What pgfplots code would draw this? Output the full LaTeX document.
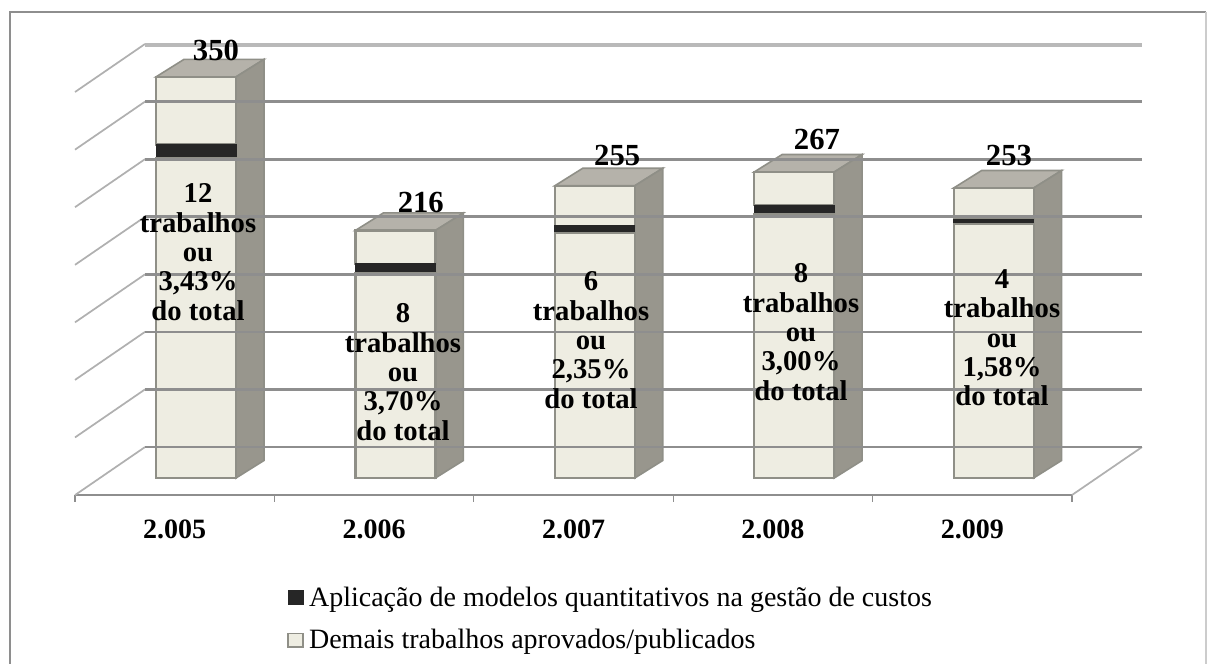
\documentclass[border=0pt]{standalone}
\usepackage{fontspec}
\setmainfont{Liberation Serif}
\usepackage{pgfplots}
\usepackage{pgfplotstable}
\pgfplotsset{compat=1.18}
\definecolor{lightbar}{HTML}{EEEDE2}
\definecolor{edgebar}{HTML}{8F8F87}
\definecolor{darkbar}{HTML}{262626}
\definecolor{sideface}{HTML}{98968D}
\definecolor{topface}{HTML}{B5B2AA}
\definecolor{gridc}{HTML}{8E8E8E}
\definecolor{diagc}{HTML}{B0B0B0}
\pgfplotstableread{
x lower dark upper
0 279 12 59
1 179 8 29
2 214 6 35
3 230 8 29
4 222 4 27
}\bars
\begin{document}
\begin{tikzpicture}
\useasboundingbox (-56.25pt,-126.75pt) rectangle (849pt,371.25pt);
\draw[gridc,line width=1.3pt] (-48.75pt,-126.75pt) -- (-48.75pt,362.25pt) -- (848.25pt,362.25pt);
\draw[gray!40,line width=1pt] (848.25pt,362.25pt) -- (848.25pt,-126.75pt);
\begin{axis}[
  scale only axis, width=747.75pt, height=338.25pt,
  xmin=-0.5, xmax=4.5, ymin=-14.83, ymax=378.7,
  clip=false,
  ybar stacked, bar width=60pt, bar shift=16pt,
  axis x line=bottom, axis y line=none,
  x axis line style={-,draw=gridc,line width=2pt},
  xtick={0,1,2,3,4},
  xticklabels={2.005,2.006,2.007,2.008,2.009},
  minor xtick={-0.5,0.5,1.5,2.5,3.5,4.5},
  major tick length=0pt, minor tick length=5pt,
  tick align=outside,
  every minor tick/.style={draw=gridc,line width=1pt},
  xticklabel style={font=\fontsize{21}{24}\selectfont\bfseries,yshift=-15pt},
  legend style={at={(0.2128,-0.197)},anchor=north west,draw=none,fill=none,
    font=\fontsize{21}{22}\selectfont,row sep=12pt,inner sep=0pt,
    cells={anchor=west},column sep=1.8pt},
  legend image code/.code={\draw[#1] (0pt,-5pt) rectangle (11.25pt,5pt);},
  after end axis/.append code={
    \node[font=\fontsize{23}{24}\selectfont\bfseries] at (axis cs:0.207,373.5) {350};
    \node[font=\fontsize{23}{24}\selectfont\bfseries] at (axis cs:1.234,240.8) {216};
    \node[font=\fontsize{23}{24}\selectfont\bfseries] at (axis cs:2.219,281.8) {255};
    \node[font=\fontsize{23}{24}\selectfont\bfseries] at (axis cs:3.221,295) {267};
    \node[font=\fontsize{23}{24}\selectfont\bfseries] at (axis cs:4.184,281.8) {253};
    \node[align=center,inner sep=0pt,font=\fontsize{21.5}{22}\selectfont\bfseries] at (axis cs:0.117,197.2) {12\\trabalhos\\ou\\3,43\%\\do total};
    \node[align=center,inner sep=0pt,font=\fontsize{21.5}{22}\selectfont\bfseries] at (axis cs:1.145,92.5) {8\\trabalhos\\ou\\3,70\%\\do total};
    \node[align=center,inner sep=0pt,font=\fontsize{21.5}{22}\selectfont\bfseries] at (axis cs:2.088,120.4) {6\\trabalhos\\ou\\2,35\%\\do total};
    \node[align=center,inner sep=0pt,font=\fontsize{21.5}{22}\selectfont\bfseries] at (axis cs:3.141,127.4) {8\\trabalhos\\ou\\3,00\%\\do total};
    \node[align=center,inner sep=0pt,font=\fontsize{21.5}{22}\selectfont\bfseries] at (axis cs:4.149,122.2) {4\\trabalhos\\ou\\1,58\%\\do total};
  },
]
% back wall gridlines
\addplot[forget plot,sharp plot,stack plots=false,draw=gridc,line width=2pt] coordinates {(-0.149,27.0) (4.851,27.0)};
\addplot[forget plot,sharp plot,stack plots=false,draw=gridc,line width=2pt] coordinates {(-0.149,77.3) (4.851,77.3)};
\addplot[forget plot,sharp plot,stack plots=false,draw=gridc,line width=2pt] coordinates {(-0.149,127.5) (4.851,127.5)};
\addplot[forget plot,sharp plot,stack plots=false,draw=gridc,line width=2pt] coordinates {(-0.149,177.7) (4.851,177.7)};
\addplot[forget plot,sharp plot,stack plots=false,draw=gridc,line width=2pt] coordinates {(-0.149,227.9) (4.851,227.9)};
\addplot[forget plot,sharp plot,stack plots=false,draw=gridc,line width=2pt] coordinates {(-0.149,278.2) (4.851,278.2)};
\addplot[forget plot,sharp plot,stack plots=false,draw=gridc,line width=2pt] coordinates {(-0.149,328.4) (4.851,328.4)};
\addplot[forget plot,sharp plot,stack plots=false,draw=gray!55,line width=3pt] coordinates {(-0.149,378.0) (4.851,378.0)};
% left wall and floor diagonals
\addplot[forget plot,sharp plot,stack plots=false,draw=diagc,line width=1.3pt] coordinates {(-0.5,-14.9) (-0.149,27.0)};
\addplot[forget plot,sharp plot,stack plots=false,draw=diagc,line width=1.3pt] coordinates {(-0.5,35.4) (-0.149,77.3)};
\addplot[forget plot,sharp plot,stack plots=false,draw=diagc,line width=1.3pt] coordinates {(-0.5,85.6) (-0.149,127.5)};
\addplot[forget plot,sharp plot,stack plots=false,draw=diagc,line width=1.3pt] coordinates {(-0.5,135.8) (-0.149,177.7)};
\addplot[forget plot,sharp plot,stack plots=false,draw=diagc,line width=1.3pt] coordinates {(-0.5,186.0) (-0.149,227.9)};
\addplot[forget plot,sharp plot,stack plots=false,draw=diagc,line width=1.3pt] coordinates {(-0.5,236.3) (-0.149,278.2)};
\addplot[forget plot,sharp plot,stack plots=false,draw=diagc,line width=1.3pt] coordinates {(-0.5,286.5) (-0.149,328.4)};
\addplot[forget plot,sharp plot,stack plots=false,draw=diagc,line width=1.3pt] coordinates {(-0.5,336.8) (-0.149,378.7)};
\addplot[forget plot,sharp plot,stack plots=false,draw=diagc,line width=1.3pt] coordinates {(4.5,-14.83) (4.851,27.0)};
% stacked front faces
\addplot[forget plot,fill=lightbar,draw=edgebar,line width=1.6pt] table[x=x,y=lower] {\bars};
\addplot[forget plot,fill=darkbar,draw=darkbar,line width=0.6pt] table[x=x,y=dark] {\bars};
\addplot[forget plot,fill=lightbar,draw=edgebar,line width=1.6pt] table[x=x,y=upper] {\bars};
% side faces
\addplot[forget plot,sharp plot,stack plots=false,fill=sideface,draw=edgebar,line width=1.2pt] coordinates {(0.3074,0) (0.4478,15.3) (0.4478,365.3) (0.3074,350)} --cycle;
\addplot[forget plot,sharp plot,stack plots=false,fill=sideface,draw=edgebar,line width=1.2pt] coordinates {(1.3074,0) (1.4478,15.3) (1.4478,231.3) (1.3074,216)} --cycle;
\addplot[forget plot,sharp plot,stack plots=false,fill=sideface,draw=edgebar,line width=1.2pt] coordinates {(2.3074,0) (2.4478,15.3) (2.4478,270.3) (2.3074,255)} --cycle;
\addplot[forget plot,sharp plot,stack plots=false,fill=sideface,draw=edgebar,line width=1.2pt] coordinates {(3.3074,0) (3.4478,15.3) (3.4478,282.3) (3.3074,267)} --cycle;
\addplot[forget plot,sharp plot,stack plots=false,fill=sideface,draw=edgebar,line width=1.2pt] coordinates {(4.3074,0) (4.4478,15.3) (4.4478,268.3) (4.3074,253)} --cycle;
% dark band on side faces
\addplot[forget plot,sharp plot,stack plots=false,fill=darkbar,draw=none] coordinates {(0.3074,279) (0.4478,294.3) (0.4478,306.3) (0.3074,291)} --cycle;
\addplot[forget plot,sharp plot,stack plots=false,fill=darkbar,draw=none] coordinates {(1.3074,179) (1.4478,194.3) (1.4478,202.3) (1.3074,187)} --cycle;
\addplot[forget plot,sharp plot,stack plots=false,fill=darkbar,draw=none] coordinates {(2.3074,214) (2.4478,229.3) (2.4478,235.3) (2.3074,220)} --cycle;
\addplot[forget plot,sharp plot,stack plots=false,fill=darkbar,draw=none] coordinates {(3.3074,230) (3.4478,245.3) (3.4478,253.3) (3.3074,238)} --cycle;
\addplot[forget plot,sharp plot,stack plots=false,fill=darkbar,draw=none] coordinates {(4.3074,222) (4.4478,237.3) (4.4478,241.3) (4.3074,226)} --cycle;
% top faces
\addplot[forget plot,sharp plot,stack plots=false,fill=topface,draw=edgebar,line width=1.2pt] coordinates {(-0.0938,350) (0.0466,365.3) (0.4478,365.3) (0.3074,350)} --cycle;
\addplot[forget plot,sharp plot,stack plots=false,fill=topface,draw=edgebar,line width=1.2pt] coordinates {(0.9062,216) (1.0466,231.3) (1.4478,231.3) (1.3074,216)} --cycle;
\addplot[forget plot,sharp plot,stack plots=false,fill=topface,draw=edgebar,line width=1.2pt] coordinates {(1.9062,255) (2.0466,270.3) (2.4478,270.3) (2.3074,255)} --cycle;
\addplot[forget plot,sharp plot,stack plots=false,fill=topface,draw=edgebar,line width=1.2pt] coordinates {(2.9062,267) (3.0466,282.3) (3.4478,282.3) (3.3074,267)} --cycle;
\addplot[forget plot,sharp plot,stack plots=false,fill=topface,draw=edgebar,line width=1.2pt] coordinates {(3.9062,253) (4.0466,268.3) (4.4478,268.3) (4.3074,253)} --cycle;
% legend
\addlegendimage{fill=darkbar,draw=darkbar,line width=0.6pt}
\addlegendentry{Aplicação de modelos quantitativos na gestão de custos}
\addlegendimage{fill=lightbar,draw=edgebar,line width=1.2pt}
\addlegendentry{Demais trabalhos aprovados/publicados}
\end{axis}
\end{tikzpicture}
\end{document}
